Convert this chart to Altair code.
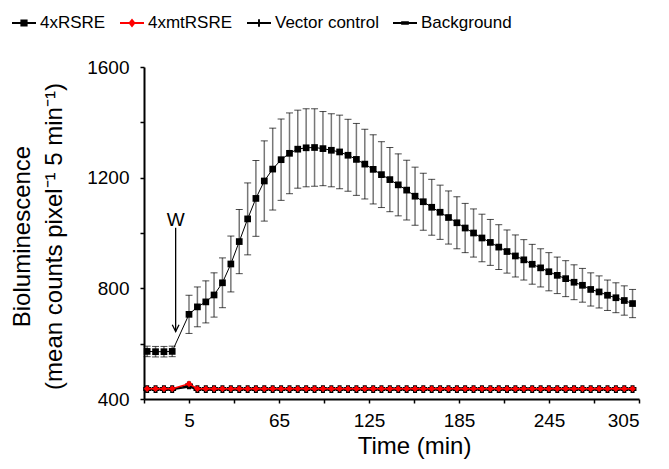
import altair as alt
import pandas as pd

FONT = "Liberation Sans"

series_names = ["4xRSRE", "4xmtRSRE", "Vector control", "Background"]
series_colors = ["black", "#ff0000", "black", "black"]
legend_paths = [
    "M-1,-0.08H1V0.08H-1Z M-0.3,-0.3H0.3V0.3H-0.3Z",
    "M-1,-0.08H1V0.08H-1Z M0,-0.38L0.3,0L0,0.38L-0.3,0Z",
    "M-1,-0.08H1V0.08H-1Z M-0.08,-0.32H0.08V0.32H-0.08Z",
    "M-1,-0.08H1V0.08H-1Z M-0.32,-0.14H0.32V0.14H-0.32Z",
]

# sample times (min)
times = [
    -22.9, -17.3, -11.7, -6.2,
    5.0, 10.6, 16.2, 21.7, 27.3, 32.9, 38.5, 44.1, 49.6, 55.2,
    60.8, 66.4, 72.0, 77.5, 83.1, 88.7, 94.3, 99.9, 105.4, 111.0,
    116.6, 122.2, 127.8, 133.3, 138.9, 144.5, 150.1, 155.7, 161.2, 166.8,
    172.4, 178.0, 183.6, 189.1, 194.7, 200.3, 205.9, 211.5, 217.0, 222.6,
    228.2, 233.8, 239.4, 244.9, 250.5, 256.1, 261.7, 267.3, 272.8, 278.4,
    284.0, 289.6, 295.2, 300.7,
]

rsre_mean = [
    572, 571, 571, 572,
    706, 733, 751, 776, 820, 888, 969, 1051, 1125, 1188,
    1231, 1265, 1288, 1303, 1308, 1309, 1305, 1299, 1293, 1281,
    1266, 1249, 1230, 1211, 1193, 1174, 1155, 1133, 1113, 1093,
    1075, 1056, 1037, 1018, 1000, 982, 966, 949, 933, 917,
    903, 887, 874, 860, 847, 835, 822, 811, 796, 787,
    775, 766, 756, 745,
]

rsre_err = [
    19, 19, 19, 19,
    69, 72, 76, 80, 90, 101, 116, 130, 137, 145,
    148, 147, 146, 141, 141, 140, 134, 132, 133, 130,
    130, 126, 125, 119, 116, 112, 108, 105, 103, 101,
    98, 96, 94, 89, 87, 86, 83, 81, 78, 76,
    73, 72, 69, 69, 66, 65, 63, 61, 60, 58,
    55, 54, 53, 51,
]

mt_mean = [
    437, 437, 437, 437,
    455, 437, 437, 437, 437, 437, 437, 437, 437, 437,
    437, 437, 437, 437, 437, 437, 437, 437, 437, 437,
    437, 437, 437, 437, 437, 437, 437, 437, 437, 437,
    437, 437, 437, 437, 437, 437, 437, 437, 437, 437,
    437, 437, 437, 437, 437, 437, 437, 437, 437, 437,
    437, 437, 437, 437,
]

vc_mean = [
    436, 436, 436, 436,
    449, 436, 436, 436, 436, 436, 436, 436, 436, 436,
    436, 436, 436, 436, 436, 436, 436, 436, 436, 436,
    436, 436, 436, 436, 436, 436, 436, 436, 436, 436,
    436, 436, 436, 436, 436, 436, 436, 436, 436, 436,
    436, 436, 436, 436, 436, 436, 436, 436, 436, 436,
    436, 436, 436, 436,
]

bg_mean = [
    434, 434, 434, 434,
    443, 434, 434, 434, 434, 434, 434, 434, 434, 434,
    434, 434, 434, 434, 434, 434, 434, 434, 434, 434,
    434, 434, 434, 434, 434, 434, 434, 434, 434, 434,
    434, 434, 434, 434, 434, 434, 434, 434, 434, 434,
    434, 434, 434, 434, 434, 434, 434, 434, 434, 434,
    434, 434, 434, 434,
]

x_tick_values = [-25, 5, 35, 65, 95, 125, 155, 185, 215, 245, 275, 305]
y_tick_values = [400, 600, 800, 1000, 1200, 1400, 1600]

# wash annotation
w_time = [-3.9]
w_label_y = [1026]
w_arrow_top = [1019]
w_arrow_tip = [644]

df = pd.DataFrame({
    "t": times, "rsre": rsre_mean, "err": rsre_err,
    "mt": mt_mean, "vc": vc_mean, "bg": bg_mean,
})
df["lo"] = df["rsre"] - df["err"]
df["hi"] = df["rsre"] + df["err"]

xscale = alt.Scale(domain=[-25, 305], nice=False, zero=False)
yscale = alt.Scale(domain=[400, 1600], nice=False, zero=False)

xaxis = alt.Axis(
    values=x_tick_values, format="d", title="Time (min)",
    labelExpr="(datum.value - 5) % 60 == 0 ? datum.label : ''",
    labelPadding=8, titlePadding=4, titleX=270,
)
yaxis = alt.Axis(
    values=y_tick_values, format="d",
    title=["Bioluminescence", "(mean counts pixel\u207b\u00b9 5 min\u207b\u00b9)"],
    labelExpr="datum.value % 400 == 0 ? datum.label : ''",
    labelPadding=11, titlePadding=20, titleLineHeight=32, titleY=169,
)


def X(field="t"):
    return alt.X(f"{field}:Q", scale=xscale, axis=xaxis)


def Y(field):
    return alt.Y(f"{field}:Q", scale=yscale, axis=yaxis)


base = alt.Chart(df)

err_rule = base.mark_rule(color="#777777", strokeWidth=1.5).encode(
    x=X(), y=Y("lo"), y2="hi:Q")
cap_hi = base.mark_tick(orient="horizontal", color="black", size=7, thickness=1).encode(
    x=X(), y=Y("hi"))
cap_lo = base.mark_tick(orient="horizontal", color="black", size=7, thickness=1).encode(
    x=X(), y=Y("lo"))

rsre_line = base.mark_line(color="black", strokeWidth=1).encode(x=X(), y=Y("rsre"))
rsre_pts = base.mark_point(shape="square", filled=True, size=45, color="black", opacity=1).encode(
    x=X(), y=Y("rsre"))

bg_line = base.mark_line(color="black", strokeWidth=1.5).encode(x=X(), y=Y("bg"))
bg_pts = base.mark_point(shape="M-1,-0.3H1V0.3H-1Z", filled=True, size=40, color="black", opacity=1).encode(
    x=X(), y=Y("bg"))
vc_line = base.mark_line(color="black", strokeWidth=1.5).encode(x=X(), y=Y("vc"))
vc_pts = base.mark_point(shape="cross", filled=False, size=40, color="black", strokeWidth=1.5, opacity=1).encode(
    x=X(), y=Y("vc"))
mt_line = base.mark_line(color="#ff0000", strokeWidth=1.5).encode(x=X(), y=Y("mt"))
mt_pts = base.mark_point(shape="diamond", filled=True, size=45, color="#ff0000", opacity=1).encode(
    x=X(), y=Y("mt"))

ann = pd.DataFrame({"t": w_time, "ly": w_label_y, "top": w_arrow_top, "tip": w_arrow_tip, "txt": ["W"]})
w_text = alt.Chart(ann).mark_text(font=FONT, fontSize=19, baseline="alphabetic", align="center", color="black").encode(
    x=X(), y=Y("ly"), text="txt:N")
w_rule = alt.Chart(ann).mark_rule(color="black", strokeWidth=1.3).encode(
    x=X(), y=Y("top"), y2="tip:Q")
w_head = alt.Chart(ann).mark_point(shape="M-0.5,-1L0,0L0.5,-1", filled=False, size=180,
                                   color="black", strokeWidth=1.3, opacity=1).encode(
    x=X(), y=Y("tip"))

legend_df = pd.DataFrame({"name": series_names})
leg = alt.Legend(
    title=None, orient="none", legendX=-132, legendY=-56, direction="horizontal", columns=4,
    labelFont=FONT, labelFontSize=17, labelColor="black", symbolSize=576, labelOffset=4,
    columnPadding=14, symbolStrokeWidth=0, symbolOpacity=1,
)
legend_layer = alt.Chart(legend_df).transform_filter("false").mark_point(filled=True, opacity=1).encode(
    color=alt.Color("name:N", scale=alt.Scale(domain=series_names, range=series_colors), legend=leg),
    shape=alt.Shape("name:N", scale=alt.Scale(domain=series_names, range=legend_paths), legend=leg),
)

chart = alt.layer(
    err_rule, cap_hi, cap_lo, rsre_line, rsre_pts,
    bg_line, bg_pts, vc_line, vc_pts, mt_line, mt_pts,
    w_rule, w_head, w_text, legend_layer,
).properties(
    width=495, height=332,
    padding={"left": 136, "top": 59, "right": 18, "bottom": 62},
    autosize=alt.AutoSizeParams(type="none"),
).configure_view(stroke=None).configure_axis(
    grid=False, domainColor="black", domainWidth=2, tickColor="black", tickWidth=1.5,
    tickSize=4, labelFont=FONT, labelFontSize=19, labelColor="black",
    titleFont=FONT, titleFontSize=24, titleFontWeight="normal", titleColor="black",
)

chart.save("out.html", embed_options={"renderer": "svg", "actions": False})
